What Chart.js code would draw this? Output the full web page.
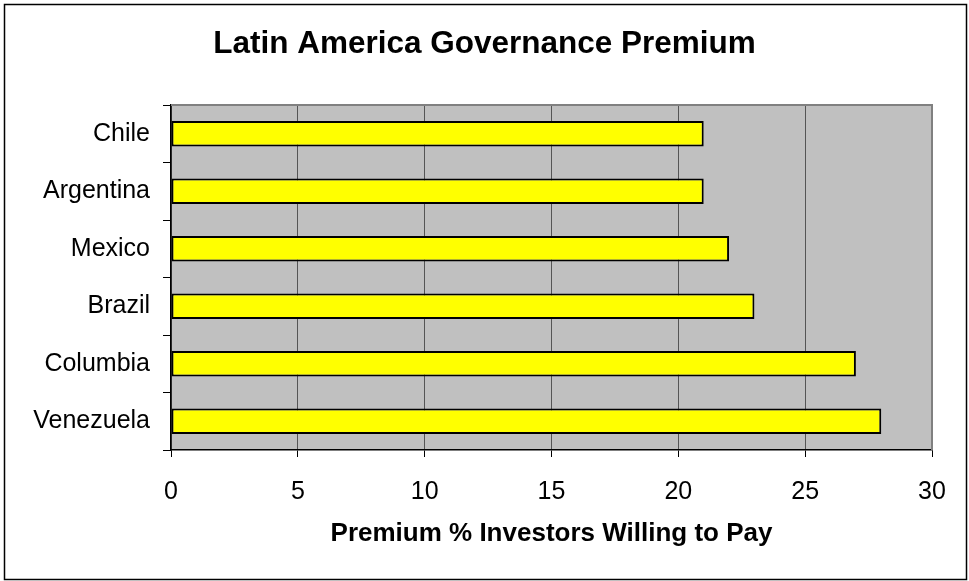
<!DOCTYPE html>
<html>
<head>
<meta charset="utf-8">
<script src="https://cdn.jsdelivr.net/npm/chart.js@4"></script>
<style>
  html, body { margin: 0; padding: 0; background: #fff; }
  #wrap { width: 969px; height: 581px; position: relative; }
</style>
</head>
<body>
<div id="wrap"><canvas id="govChart" width="969" height="581"></canvas></div>
<script>
// data
const countries = ['Chile', 'Argentina', 'Mexico', 'Brazil', 'Columbia', 'Venezuela'];
const premium = [21, 21, 22, 23, 27, 28];
const xTicks = [0, 5, 10, 15, 20, 25, 30];

const chartTitle = 'Latin America Governance Premium';
const xTitle = 'Premium % Investors Willing to Pay';

const fontFam = 'Liberation Sans, Arial, sans-serif';

// grey plot area, grey top/right edge, outer frame
const frame = {
    id: 'frame',
    beforeDraw(chart) {
        const { ctx, chartArea: a } = chart;
        ctx.save();
        ctx.fillStyle = '#fff';
        ctx.fillRect(0, 0, chart.width, chart.height);
        ctx.fillStyle = '#C0C0C0';
        ctx.fillRect(a.left, a.top, a.right - a.left, a.bottom - a.top);
        ctx.restore();
    },
    beforeDatasetsDraw(chart) {
        const { ctx, chartArea: a } = chart;
        ctx.save();
        ctx.strokeStyle = '#808080';
        ctx.lineWidth = 2;
        ctx.beginPath();
        ctx.moveTo(a.left, a.top);
        ctx.lineTo(a.right, a.top);
        ctx.lineTo(a.right, a.bottom);
        ctx.stroke();
        ctx.restore();
    },
    afterDraw(chart) {
        const ctx = chart.ctx;
        ctx.save();
        ctx.strokeStyle = '#000';
        ctx.lineWidth = 1.5;
        ctx.strokeRect(4.5, 4.5, 962, 575);
        ctx.restore();
    }
};

const ctx = document.getElementById('govChart').getContext('2d');
const govChart = new Chart(ctx, {
    type: 'bar',
    data: {
        labels: countries,
        datasets: [{
            data: premium,
            backgroundColor: '#FFFF00',
            borderColor: '#000',
            borderWidth: 2,
            borderSkipped: false,
            barPercentage: 0.44,
            categoryPercentage: 1
        }]
    },
    options: {
        indexAxis: 'y',
        responsive: false,
        animation: false,
        layout: { padding: 0 },
        plugins: {
            legend: { display: false },
            tooltip: { enabled: false },
            title: {
                display: true,
                text: chartTitle,
                color: '#000',
                font: { family: fontFam, size: 31.5, weight: 'bold' },
                padding: { top: 25, bottom: 42.2 }
            }
        },
        scales: {
            x: {
                min: 0,
                max: 30,
                afterBuildTicks(scale) {
                    scale.ticks = xTicks.map(v => ({ value: v }));
                },
                afterFit(scale) { scale.height = 131; },
                grid: {
                    color: '#555',
                    lineWidth: 1,
                    tickLength: 7,
                    tickColor: '#000'
                },
                border: { color: '#000', width: 1.5 },
                ticks: {
                    color: '#000',
                    padding: 20,
                    font: { family: fontFam, size: 25 }
                },
                title: {
                    display: true,
                    text: xTitle,
                    color: '#000',
                    font: { family: fontFam, size: 26, weight: 'bold' },
                    padding: { top: 0, bottom: 32 }
                }
            },
            y: {
                afterFit(scale) { scale.width = 171; },
                grid: {
                    drawOnChartArea: false,
                    offset: true,
                    tickLength: 8,
                    color: '#000'
                },
                border: { color: '#000', width: 1.5 },
                ticks: {
                    color: '#000',
                    padding: 13,
                    font: { family: fontFam, size: 25 }
                }
            },
            // empty right-hand strip so the title centres on the whole frame
            yRight: {
                type: 'category',
                position: 'right',
                afterFit(scale) { scale.width = 37; },
                grid: { display: false },
                border: { display: false },
                ticks: { display: false }
            }
        }
    },
    plugins: [frame]
});
</script>
</body>
</html>
